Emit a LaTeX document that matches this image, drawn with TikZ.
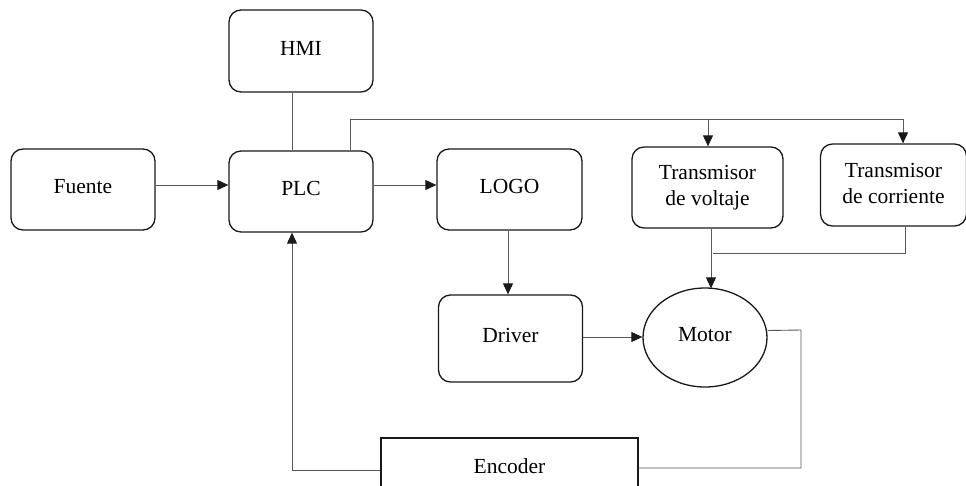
\documentclass[tikz,border=0pt]{standalone}
\usepackage{fontspec}
\setmainfont{Liberation Serif}
\usetikzlibrary{arrows.meta,shapes.geometric}
\begin{document}
\begin{tikzpicture}[x=1pt,y=-1pt,
  font=\fontsize{21.5}{26}\selectfont,
  blk/.style={draw=black!90, line width=1.3pt, rounded corners=12pt, inner sep=0pt, align=center},
  plainblk/.style={draw=black!90, line width=1.6pt, inner sep=0pt},
  wire/.style={draw=black!65, line width=0.9pt},
  arr/.style={wire, -{Triangle[length=11pt,width=10pt,color=black!90]}}]
\clip (0,0) rectangle (966,485);
\fill[white] (0,0) rectangle (966,485);

% blocks
\node[blk, minimum width=144, minimum height=82] (HMI) at (301,51) {\raisebox{6pt}{HMI}};
\node[blk, minimum width=144, minimum height=81] (Fuente) at (83,189.5) {\raisebox{6pt}{Fuente}};
\node[blk, minimum width=144, minimum height=81] (PLC) at (301,191.5) {\raisebox{6pt}{PLC}};
\node[blk, minimum width=145, minimum height=81] (LOGO) at (509.5,189.5) {\raisebox{6pt}{LOGO}};
\node[blk, minimum width=151, minimum height=81] (TV) at (707.5,187.5) {\raisebox{4pt}{\begin{tabular}{@{}c@{}}Transmisor\\de voltaje\end{tabular}}};
\node[blk, minimum width=146, minimum height=82] (TC) at (893.5,185) {\raisebox{4pt}{\begin{tabular}{@{}c@{}}Transmisor\\de corriente\end{tabular}}};
\node[blk, minimum width=144, minimum height=87] (Driver) at (510.5,338.5) {\raisebox{7pt}{Driver}};
\node[draw=black!90, line width=1.3pt, ellipse, minimum width=124, minimum height=99, inner sep=0pt] (Motor) at (705,337.5) {\raisebox{7pt}{Motor}};
\node[plainblk, minimum width=257, minimum height=64] (Encoder) at (509.5,470) {\raisebox{7pt}{Encoder}};

% junction points
\coordinate (busL) at (350,119);
\coordinate (busV) at (708,119);
\coordinate (busC) at (903,119);
\coordinate (join) at (713,253);
\coordinate (mcorner) at (801,330);
\coordinate (ecorner) at (801,468);
\coordinate (rowA) at (0,185);
\coordinate (rowB) at (0,337);
\coordinate (colL) at (508,0);

% connectors
\draw[arr] (Fuente.east |- rowA) -- (PLC.west |- rowA);
\draw[arr] (PLC.east |- rowA) -- (LOGO.west |- rowA);
\draw[wire] ([xshift=-9]HMI.south) -- ([xshift=-9]PLC.north);
\draw[wire] (PLC.north -| busL) -- (busL) -- (busC);
\draw[arr] (busV) -- (busV |- TV.north);
\draw[arr] (busC) -- (busC |- TC.north);
\draw[arr] (LOGO.south -| colL) -- (Driver.north -| colL);
\draw[arr] ([xshift=3.5]TV.south) -- ([xshift=6,yshift=-1]Motor.north);
\draw[wire] ([xshift=11.5]TC.south) |- (join);
\draw[arr] (Driver.east |- rowB) -- (Motor.west |- rowB);
\draw[wire] ([yshift=7]Motor.east) -- (mcorner) -- (ecorner) -- (Encoder.east |- ecorner);
\draw[arr] (Encoder.west) -| ([xshift=-9]PLC.south);
\end{tikzpicture}
\end{document}
